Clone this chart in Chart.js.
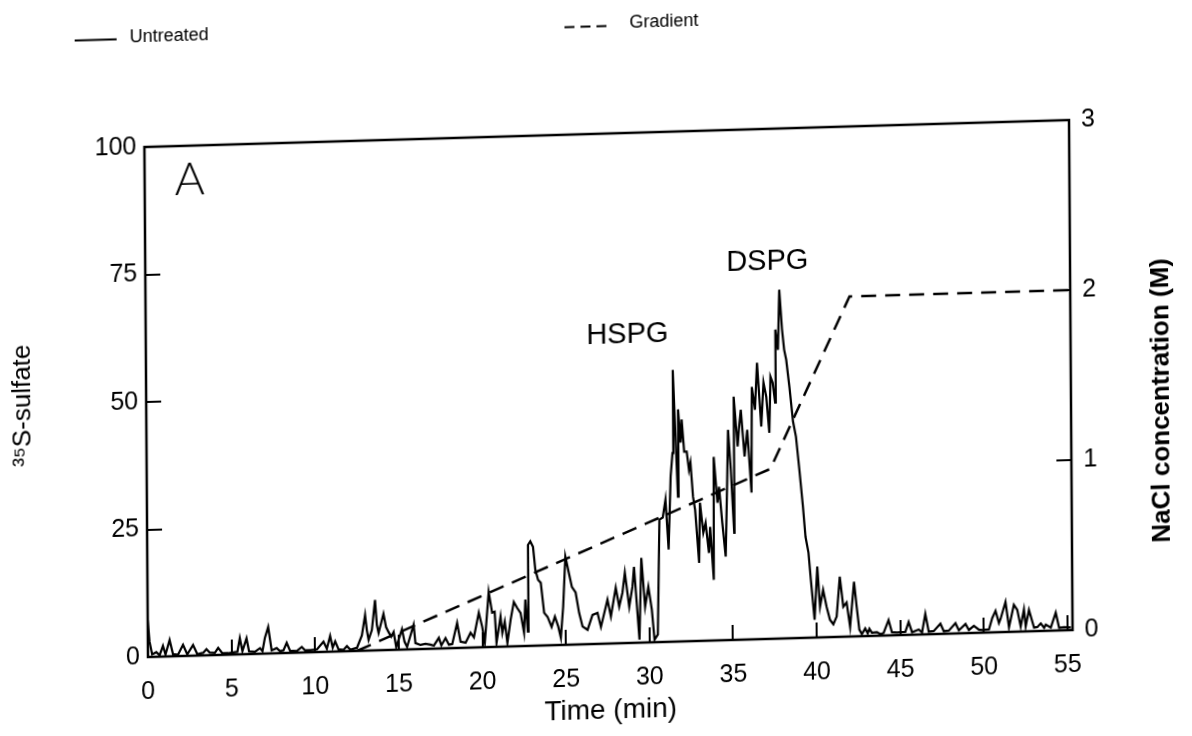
<!DOCTYPE html>
<html>
<head>
<meta charset="utf-8">
<script src="https://cdn.jsdelivr.net/npm/chart.js@4.4.1/dist/chart.umd.min.js"></script>
<style>
html,body{margin:0;padding:0;background:#fff;overflow:hidden;width:1192px;height:736px;}
/* the scanned figure sits slightly skewed on the page */
#wrap{position:absolute;left:0;top:0;width:1192px;height:760px;transform:rotate(-0.4deg) skewY(-1.27deg);transform-origin:148px 657px;}
</style>
</head>
<body>
<div id="wrap"><canvas id="canvas__elution"></canvas></div>
<script>
"use strict"

// elution time of each reading, minutes
const arrTime = [
    0,0.1,0.25,0.5,0.7,0.9,1.05,1.3,1.5,1.8,
    2.1,2.35,2.7,2.95,3.3,3.5,3.7,4.0,4.2,4.45,
    4.8,5.1,5.35,5.5,5.65,5.9,6.05,6.4,6.7,6.85,
    7.0,7.2,7.4,7.7,7.9,8.1,8.3,8.5,8.9,9.2,
    9.4,9.7,10.1,10.5,10.7,10.9,11.05,11.2,11.4,11.7,
    11.9,12.1,12.5,12.8,13.0,13.1,13.2,13.4,13.6,13.7,
    13.8,14.1,14.25,14.4,14.55,14.7,14.85,15.2,15.35,15.5,
    15.9,16.0,16.3,16.6,16.9,17.1,17.4,17.55,17.8,18.0,
    18.2,18.5,18.7,19.0,19.3,19.5,19.8,20.0,20.15,20.4,
    20.6,20.75,20.85,21.1,21.2,21.35,21.5,21.7,21.9,22.1,
    22.3,22.5,22.59,22.73,22.77,22.91,23.07,23.2,23.36,23.52,
    23.71,23.91,24.15,24.35,24.55,24.7,24.85,25.0,25.2,25.38,
    25.6,25.8,26.0,26.3,26.6,26.9,27.1,27.5,27.7,28.0,
    28.2,28.4,28.55,28.8,29.0,29.1,29.4,29.54,29.75,29.95,
    30.15,30.3,30.5,30.64,30.84,31.01,31.18,31.33,31.45,31.5,
    31.76,31.8,31.94,32.01,32.15,32.3,32.43,32.52,32.66,32.78,
    33.0,33.07,33.26,33.4,33.59,33.67,33.87,33.91,34.12,34.22,
    34.4,34.59,34.7,34.78,34.93,35.11,35.13,35.35,35.43,35.55,
    35.76,35.93,36.16,36.22,36.4,36.54,36.77,36.92,37.08,37.25,
    37.34,37.47,37.61,37.65,37.8,37.9,38.05,38.17,38.29,38.47,
    38.67,38.84,39.03,39.23,39.37,39.54,39.67,39.88,40.06,40.21,
    40.4,40.6,40.8,41.0,41.2,41.4,41.6,41.8,42.0,42.25,
    42.4,42.55,42.7,42.9,43.05,43.15,43.3,43.6,43.8,44.0,
    44.3,44.5,44.8,45.3,45.5,45.7,46.1,46.3,46.5,46.7,
    47.0,47.4,47.6,47.9,48.3,48.5,48.9,49.1,49.4,49.7,
    49.9,50.3,50.5,50.7,50.9,51.0,51.3,51.5,51.8,52.0,
    52.2,52.4,52.5,52.7,53.0,53.2,53.4,53.6,53.7,54.0,
    54.3,54.5,54.8,55.2
];

// 35S-sulfate counts of the untreated sample, same order as arrTime
const arrSulfate = [
    7.3,3.0,0.5,0.9,0.3,2.1,0.4,3.2,0.4,0.3,
    2.2,0.3,2.1,0.3,0.5,1.2,0.5,0.4,1.4,0.3,
    0.3,0.4,0.5,3.2,0.6,3.1,0.5,0.4,1.1,0.5,
    3.1,5.2,0.6,1.0,0.4,0.5,2.0,0.4,0.3,1.1,
    0.4,0.4,0.5,2.0,0.6,3.1,0.8,2.0,0.4,0.3,
    1.0,0.3,0.6,3.0,7.0,4.0,2.1,4.0,9.9,5.0,
    3.4,7.1,4.5,3.5,2.6,3.5,0.5,4.0,1.5,0.5,
    4.8,1.2,0.8,1.0,0.8,0.6,2.1,0.6,2.0,0.7,
    0.8,4.9,1.2,1.0,2.9,2.0,6.8,4.0,0.9,10.8,
    6.7,6.9,0.8,5.9,2.7,4.9,0.7,5.2,8.7,7.5,
    6.5,2.6,9.1,2.8,19.8,20.5,19.4,14.9,12.9,12.3,
    6.4,5.6,3.6,5.6,3.6,1.4,7.5,17.3,14.1,11.3,
    10.2,6.2,3.5,2.8,5.7,6.1,3.3,8.6,5.3,10.9,
    7.2,9.9,13.8,7.1,11.0,14.9,0.6,16.6,7.0,10.9,
    6.4,0.5,1.5,24.0,24.4,27.9,18.1,32.4,37.0,53.3,
    28.4,45.5,39.0,43.5,37.2,37.2,33.6,35.0,28.3,25.7,
    15.3,27.1,21.2,23.1,17.2,22.3,11.9,36.0,27.0,30.1,
    23.0,16.4,30.1,41.2,33.4,21.0,47.7,37.9,41.2,45.1,
    35.9,41.1,28.8,49.5,45.0,54.2,41.7,50.3,47.5,40.4,
    51.4,50.2,46.3,60.6,56.6,68.4,60.6,56.6,54.6,49.3,
    42.5,39.5,33.0,25.7,19.8,16.7,11.4,3.5,13.9,6.0,
    9.3,6.0,3.4,2.5,4.0,11.8,5.9,6.7,1.9,10.7,
    5.8,1.3,0.4,1.5,0.5,1.4,0.6,0.7,0.3,0.5,
    3.0,0.6,0.5,0.6,2.5,0.5,1.0,0.4,4.0,0.5,
    0.6,2.0,0.5,0.6,2.0,0.6,1.8,0.6,1.4,0.6,
    0.5,0.6,2.8,4.2,1.8,2.6,5.9,0.9,5.3,4.3,
    1.0,4.3,1.0,4.2,0.7,0.8,1.5,0.6,1.2,0.6,
    3.5,0.5,0.6,0.5
];

// NaCl gradient corners (time in min, concentration in M)
const arrGradTime = [12.5, 37.3, 42.1, 55.3];
const arrGradNaCl = [0, 1.0, 2.0, 2.0];

// axis ranges and tick steps
const arrTimeRange = [0, 55.3];
const arrSulfateRange = [0, 100];
const arrNaClRange = [0, 3];
const intTimeStep = 5;
const intSulfateStep = 25;
const intNaClStep = 1;

// texts
const arrLegendLabels = ["Untreated", "Gradient"];
const arrPeakLabels = ["A", "HSPG", "DSPG"];
const arrPeakLabelTime = [2.7, 28.8, 37.2];
const arrPeakLabelSulfate = [93.3, 60.4, 73.9];
const strRightTitle = "NaCl concentration (M)";

const FONT = "'Liberation Sans', Arial, Helvetica, sans-serif";
const COLOR_BLACK = "#000";

// box round the plot, the legend on top, the right title and the peak names
const framePlugin = {
    id: "frame",
    afterDatasetsDraw(chart){
        var ctx = chart.ctx;
        var a = chart.chartArea;
        ctx.save();
        ctx.strokeStyle = COLOR_BLACK;
        ctx.lineWidth = 2.5;
        ctx.strokeRect(a.left, a.top, a.right - a.left, a.bottom - a.top);

        // legend
        ctx.lineWidth = 2;
        ctx.fillStyle = COLOR_BLACK;
        ctx.font = "18px " + FONT;
        ctx.textBaseline = "middle";
        ctx.textAlign = "left";
        ctx.beginPath();
        ctx.moveTo(a.left - 69, 38.5);
        ctx.lineTo(a.left - 27, 38.5);
        ctx.stroke();
        ctx.fillText(arrLegendLabels[0], a.left - 14, 37);
        ctx.setLineDash([10, 6]);
        ctx.beginPath();
        ctx.moveTo(a.left + 421, 39.5);
        ctx.lineTo(a.left + 463, 39.5);
        ctx.stroke();
        ctx.setLineDash([]);
        ctx.fillText(arrLegendLabels[1], a.left + 486, 37);

        // right axis title, read from bottom to top
        ctx.save();
        ctx.translate(a.right + 91, 430);
        ctx.rotate(-Math.PI / 2);
        ctx.textAlign = "center";
        ctx.font = "bold 26px " + FONT;
        ctx.fillText(strRightTitle, 0, 0);
        ctx.restore();

        // peak names, placed in data units
        var sx = chart.scales.x;
        var sy = chart.scales.y;
        ctx.textAlign = "center";
        for (var i = 0; i < arrPeakLabels.length; i++){
            if (i === 0){
                ctx.font = "300 46px Lato, " + FONT;
            } else {
                ctx.font = "29px " + FONT;
            }
            ctx.fillText(arrPeakLabels[i], sx.getPixelForValue(arrPeakLabelTime[i]), sy.getPixelForValue(arrPeakLabelSulfate[i]));
        }
        ctx.restore();
    }
};

var tickFont = {family: FONT, size: 25};

var chart = new Chart("canvas__elution", {
    type: "line",
    data: {
        datasets: [{
            label: arrLegendLabels[0],
            data: arrTime.map(function(t, i){ return {x: t, y: arrSulfate[i]}; }),
            borderColor: COLOR_BLACK,
            borderWidth: 2.2,
            pointRadius: 0,
            tension: 0,
            yAxisID: "y"
        }, {
            label: arrLegendLabels[1],
            data: arrGradTime.map(function(t, i){ return {x: t, y: arrGradNaCl[i]}; }),
            borderColor: COLOR_BLACK,
            borderWidth: 2.5,
            borderDash: [15, 9],
            pointRadius: 0,
            tension: 0,
            yAxisID: "y2"
        }]
    },
    plugins: [framePlugin],
    options: {
        responsive: true,
        maintainAspectRatio: false,
        animation: false,
        devicePixelRatio: 1,
        layout: {padding: {top: 147, left: 0, right: 0, bottom: 0}},
        plugins: {legend: {display: false}, tooltip: {enabled: false}},
        scales: {
            x: {
                type: "linear",
                position: "bottom",
                min: arrTimeRange[0],
                max: arrTimeRange[1],
                ticks: {stepSize: intTimeStep, includeBounds: false, color: COLOR_BLACK, font: tickFont, padding: 35, maxRotation: 0, autoSkip: false},
                grid: {drawOnChartArea: false, tickLength: -15, color: COLOR_BLACK, lineWidth: 2},
                border: {display: false},
                title: {display: true, text: "Time (min)", color: COLOR_BLACK, font: {family: FONT, size: 28}, padding: {top: 0, bottom: 19}},
                afterFit: function(s){ s.height = 103; }
            },
            y: {
                type: "linear",
                position: "left",
                min: arrSulfateRange[0],
                max: arrSulfateRange[1],
                ticks: {stepSize: intSulfateStep, color: COLOR_BLACK, font: tickFont, padding: 23},
                grid: {drawOnChartArea: false, tickLength: -15, color: COLOR_BLACK, lineWidth: 2},
                border: {display: false},
                title: {display: true, text: "\u00b3\u2075S-sulfate", color: COLOR_BLACK, font: {family: FONT, size: 26}, padding: {top: 9, bottom: 0}},
                afterFit: function(s){ s.width = 148; }
            },
            y2: {
                type: "linear",
                position: "right",
                min: arrNaClRange[0],
                max: arrNaClRange[1],
                ticks: {stepSize: intNaClStep, color: COLOR_BLACK, font: tickFont, padding: 27},
                grid: {drawOnChartArea: false, tickLength: -15, color: COLOR_BLACK, lineWidth: 2},
                border: {display: false},
                afterFit: function(s){ s.width = 119; }
            }
        }
    }
});
</script>
</body>
</html>
